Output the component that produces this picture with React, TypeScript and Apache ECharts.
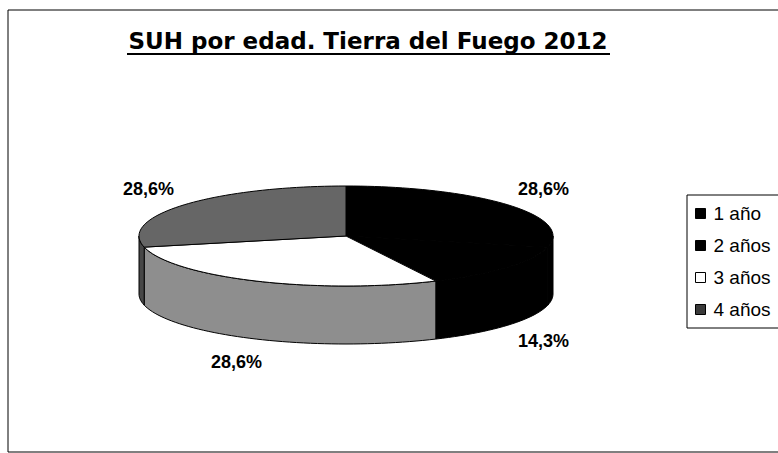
import React, { useEffect, useRef } from "react";
import * as echarts from "echarts";

const titleText = "SUH por edad. Tierra del Fuego 2012";
const categories = ["1 año", "2 años", "3 años", "4 años"];
const values = [28.6, 14.3, 28.6, 28.6];
const valueLabels = ["28,6%", "14,3%", "28,6%", "28,6%"];

const topColors = ["#000000", "#000000", "#ffffff", "#666666"];
const sideColors = ["#000000", "#000000", "#8e8e8e", "#474747"];
const legendColors = ["#000000", "#000000", "#ffffff", "#3a3a3a"];

export default function App() {
  const ref = useRef<HTMLDivElement>(null);
  useEffect(() => {
    if (!ref.current) return;
    const chart = echarts.init(ref.current, null, { renderer: "svg" });
    const cx = 346, cy = 236, rx = 207, ry = 50, depth = 58;
    const total = values.reduce((a, b) => a + b, 0);
    const starts: number[] = [];
    let acc = 0;
    values.forEach((v) => { starts.push(acc); acc += v; });
    const pt = (t: number, dy = 0) => [cx + rx * Math.sin(t), cy - ry * Math.cos(t) + dy];

    const series = categories.map((name, i) => ({
      type: "custom",
      name,
      coordinateSystem: "none",
      data: [[values[i]]],
      itemStyle: { color: legendColors[i] },
      renderItem: (params: any, api: any) => {
        const v = api.value(0);
        const a = (starts[i] / total) * Math.PI * 2;
        const b = a + (v / total) * Math.PI * 2;
        const children: any[] = [];
        const sa = Math.max(a, Math.PI / 2);
        const sb = Math.min(b, (Math.PI * 3) / 2);
        if (sb > sa) {
          const n = Math.max(2, Math.ceil(((sb - sa) * 180) / Math.PI / 2));
          const top: number[][] = [];
          const bot: number[][] = [];
          for (let k = 0; k <= n; k++) {
            const t = sa + ((sb - sa) * k) / n;
            top.push(pt(t));
            bot.push(pt(t, depth));
          }
          children.push({
            type: "polygon",
            shape: { points: top.concat(bot.reverse()) },
            style: { fill: sideColors[i], stroke: "#000", lineWidth: 1 },
          });
        }
        const n2 = Math.max(2, Math.ceil(((b - a) * 180) / Math.PI / 2));
        const face: number[][] = [[cx, cy]];
        for (let k = 0; k <= n2; k++) face.push(pt(a + ((b - a) * k) / n2));
        children.push({
          type: "polygon",
          shape: { points: face },
          style: { fill: topColors[i], stroke: "#000", lineWidth: 1 },
        });
        const m = (a + b) / 2;
        const lx = cx + 1.22 * rx * Math.sin(m);
        const cosm = Math.cos(m);
        const ly = cy - 1.5 * ry * cosm + (cosm < 0 ? depth : 0);
        children.push({
          type: "text",
          x: lx,
          y: ly,
          style: {
            text: valueLabels[i],
            font: "bold 18px 'Liberation Sans', Arial, sans-serif",
            fill: "#000",
            textAlign: "center",
            textVerticalAlign: "middle",
          },
        });
        return { type: "group", children };
      },
    }));

    chart.setOption({
      animation: false,
      backgroundColor: "#ffffff",
      legend: {
        orient: "vertical",
        left: 687,
        top: 195,
        padding: [9, 0, 9, 8],
        itemGap: 13,
        itemWidth: 10,
        itemHeight: 10,
        selectedMode: false,
        icon: "rect",
        textStyle: { fontSize: 19, fontFamily: "'Liberation Sans', Arial, sans-serif", color: "#000", padding: [0, 0, 0, 3] },
        data: categories.map((name, i) => ({
          name,
          itemStyle: { color: legendColors[i], borderColor: "#000", borderWidth: 1 },
        })),
      },
      graphic: [
        {
          type: "rect",
          shape: { x: 8, y: 10, width: 800, height: 442 },
          style: { fill: "none", stroke: "#000", lineWidth: 1 },
          silent: true,
        },
        {
          type: "rect",
          shape: { x: 687, y: 195, width: 200, height: 133 },
          style: { fill: "none", stroke: "#000", lineWidth: 1 },
          silent: true,
        },
        {
          type: "text",
          x: 368,
          y: 41,
          style: {
            text: titleText,
            font: "bold 23px 'DejaVu Sans', Verdana, sans-serif",
            fill: "#000",
            textAlign: "center",
            textVerticalAlign: "middle",
          },
        },
        {
          type: "line",
          shape: { x1: 127, y1: 54, x2: 610, y2: 54 },
          style: { stroke: "#000", lineWidth: 2 },
        },
      ],
      series,
    });
    return () => chart.dispose();
  }, []);
  return <div ref={ref} style={{ position: "absolute", left: 0, top: 0, width: 778, height: 453 }} />;
}
